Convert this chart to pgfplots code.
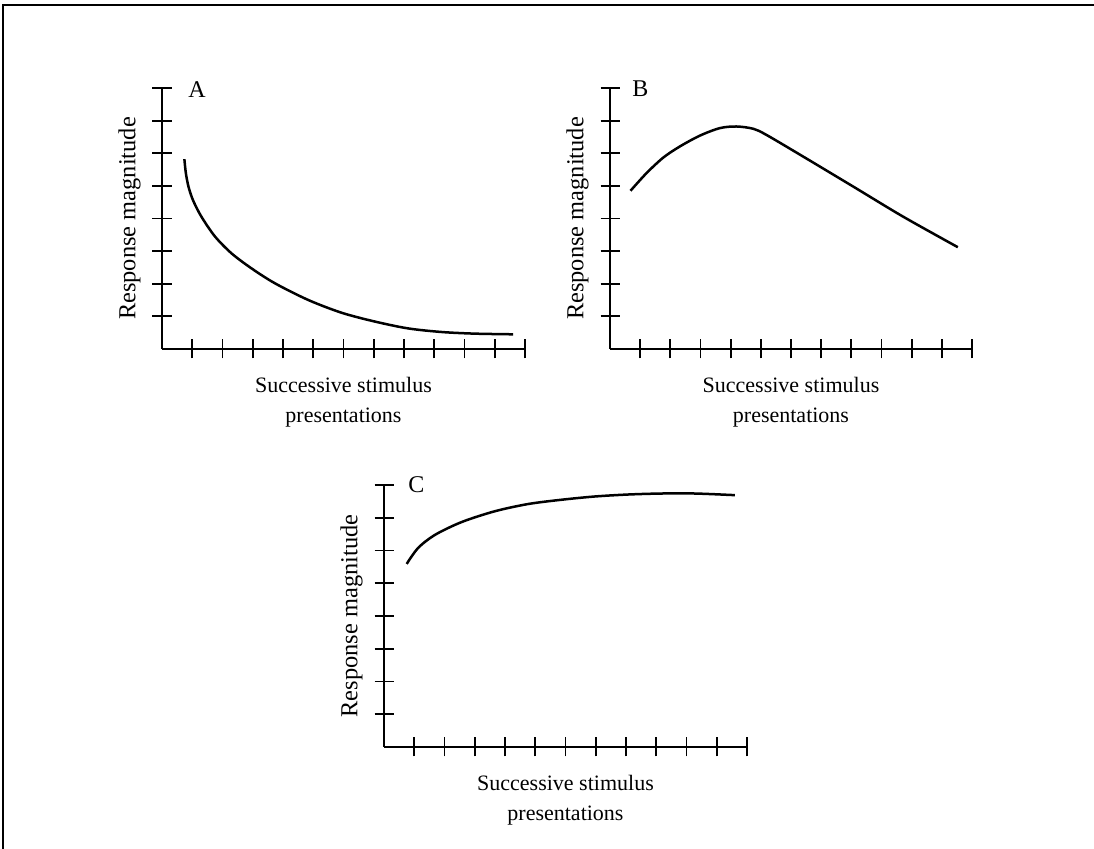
\documentclass[border=0pt]{standalone}
\usepackage{fontspec}
\setmainfont{Liberation Serif}
\usepackage{pgfplots}
\pgfplotsset{compat=1.18}
\pgfplotsset{myax/.style={
  scale only axis, width=181.5pt, height=130.5pt,
  xmin=0, xmax=12, ymin=0, ymax=8,
  axis x line=bottom, axis y line=left,
  axis line style={line width=1pt,-},
  xtick={1,...,12}, ytick={1,...,8},
  xticklabels={}, yticklabels={},
  tick align=center, major tick length=9.5pt,
  tick style={line width=0.9pt, black},
  clip=false, anchor=south west,
  xlabel={Successive stimulus\\presentations},
  xlabel style={at={(axis description cs:0.5,-0.107)}, anchor=north, align=center, inner sep=0pt, font=\fontsize{11}{15}\selectfont},
  ylabel={Response magnitude},
  ylabel style={at={(axis description cs:-0.058,0.5)}, anchor=south, inner sep=0pt, font=\fontsize{12.2}{14}\selectfont},
}}
\begin{document}
\begin{tikzpicture}
\path[use as bounding box] (0pt,0pt) rectangle (547pt,424.5pt);
\draw[line width=1pt] (1.5pt,0pt) -- (1.5pt,422pt) -- (547pt,422pt);

% Panel A
\begin{axis}[myax, at={(81pt,250pt)}]
\addplot[line width=1.25pt, smooth, black] coordinates {
(0.74,5.82) (0.79,5.38) (0.88,4.96) (1.03,4.55) (1.30,4.06) (1.75,3.45)
(2.30,2.93) (2.96,2.47) (3.74,2.01) (4.84,1.50) (5.94,1.11) (7.04,0.84)
(8.14,0.63) (9.25,0.52) (10.35,0.47) (11.61,0.45)};
\node[anchor=base west, font=\fontsize{12}{14}\selectfont, inner sep=0pt] at (axis cs:0.86,7.70) {A};
\end{axis}

% Panel B
\begin{axis}[myax, at={(305pt,250pt)}, width=181pt]
\addplot[line width=1.25pt, smooth, black] coordinates {
(0.68,4.85) (1.21,5.39) (1.77,5.87) (2.32,6.21) (2.98,6.54) (3.64,6.77)
(4.19,6.82) (4.75,6.75) (5.19,6.56) (6.40,5.90) (8.06,4.98) (9.71,4.06)
(11.53,3.12)};
\node[anchor=base west, font=\fontsize{12}{14}\selectfont, inner sep=0pt] at (axis cs:0.73,7.73) {B};
\end{axis}

% Panel C
\begin{axis}[myax, at={(192pt,51pt)}, height=131pt]
\addplot[line width=1.25pt, smooth, black] coordinates {
(0.75,5.59) (1.13,6.08) (1.69,6.48) (2.57,6.87) (3.67,7.20) (4.77,7.42)
(5.87,7.55) (6.98,7.65) (8.08,7.71) (9.18,7.74) (10.28,7.74) (11.60,7.69)};
\node[anchor=base west, font=\fontsize{12}{14}\selectfont, inner sep=0pt] at (axis cs:0.79,7.77) {C};
\end{axis}
\end{tikzpicture}
\end{document}
